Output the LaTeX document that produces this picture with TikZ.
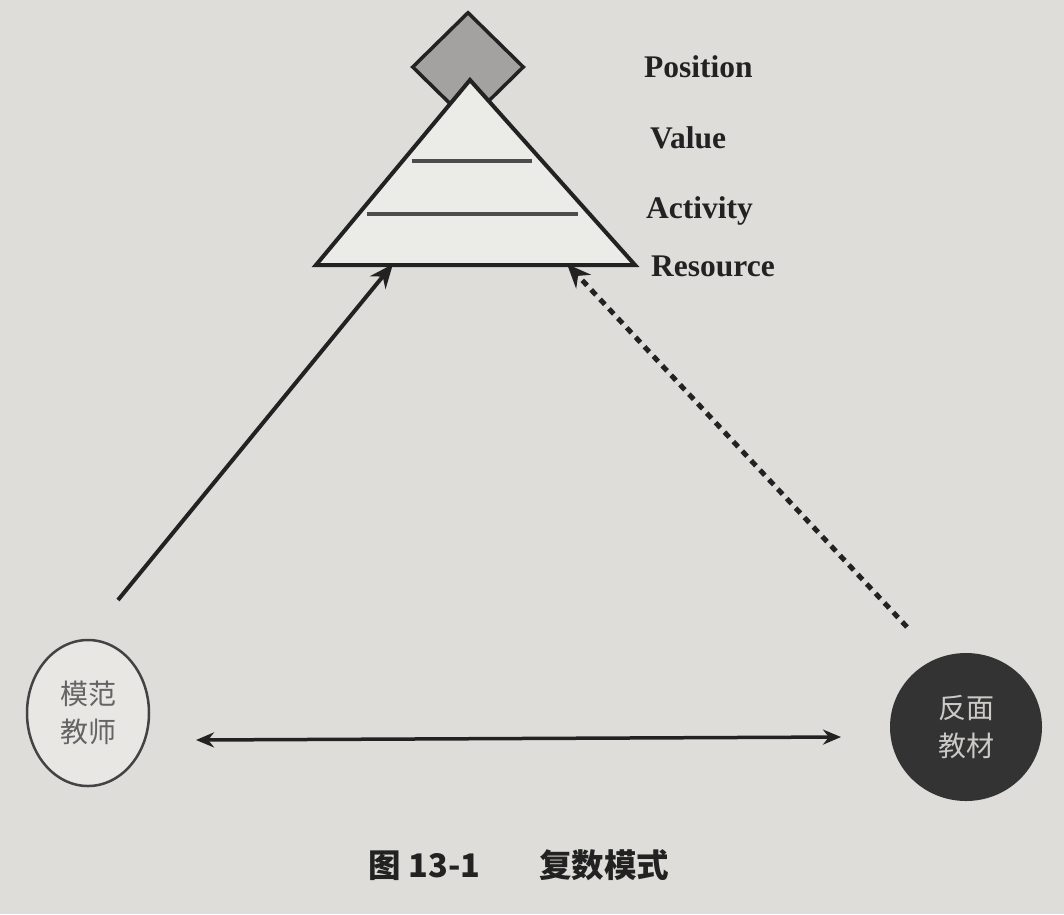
\documentclass[tikz,border=0pt]{standalone}
\usepackage{fontspec}
\setmainfont{Liberation Serif}
\newfontfamily\cjk{Noto Sans CJK SC}
\usetikzlibrary{arrows.meta,shapes.geometric}
\definecolor{paper}{HTML}{DEDDD9}
\definecolor{ink}{HTML}{222222}
\definecolor{diamondfill}{HTML}{A3A2A0}
\definecolor{darkcirc}{HTML}{333333}
\tikzset{
  lbl/.style={anchor=west,font=\fontsize{31.5}{34}\selectfont\bfseries,text=ink,inner sep=0pt},
  arr/.style={draw=ink,line width=4pt,-{Stealth[length=24pt,width=20pt]}},
  cjktxt/.style={font=\cjk\fontsize{28}{38}\selectfont,align=center}
}
\begin{document}
\begin{tikzpicture}[x=1pt,y=-1pt]
\fill[paper] (0,0) rectangle (1064,914);
\useasboundingbox (0,0) rectangle (1064,914);
% diamond
\node (dia) [diamond,draw=ink,line width=3.5pt,fill=diamondfill,minimum width=112pt,minimum height=110pt,inner sep=0pt] at (468,67) {};
% triangle
\coordinate (apex) at (470,80);
\coordinate (bl) at (316,265);
\coordinate (br) at (635,265);
\filldraw[draw=ink,fill=paper!60!white,line width=4pt,line join=miter] (apex) -- (bl) -- (br) -- cycle;
\coordinate (l1a) at (412,161); \coordinate (l1b) at (532,161);
\coordinate (l2a) at (367,214); \coordinate (l2b) at (578,214);
\draw[gray!60!black,line width=3.5pt] (l1a) -- (l1b);
\draw[gray!60!black,line width=3.5pt] (l2a) -- (l2b);
% labels
\node (pos) [lbl] at (644,67) {Position};
\node (val) [lbl] at (650,138) {Value};
\node (act) [lbl] at (646,211) {Activity};
\node (res) [lbl] at (651,266) {Resource};
% circles
\node (model) [ellipse,draw=ink!85,line width=2.5pt,fill=paper!70!white,minimum width=122pt,minimum height=146pt,inner sep=0pt,cjktxt,text=ink!70] at (88,713) {模范\\教师};
\node (anti) [ellipse,fill=darkcirc,minimum width=152pt,minimum height=148pt,inner sep=0pt,cjktxt,text=paper!80!gray] at (966,727) {反面\\教材};
% arrows
\coordinate (s1) at (118,600);
\coordinate (t1) at (393,264);
\coordinate (s2) at (907,627);
\coordinate (t2) at (567,264);
\draw[arr] (s1) -- (t1);
\draw[arr,line width=5pt,dash pattern=on 7pt off 6pt] (s2) -- (t2);
\coordinate (h1) at (196,740);
\coordinate (h2) at (841,737);
\draw[draw=ink,line width=3.5pt,{Stealth[length=18pt,width=15pt]}-{Stealth[length=18pt,width=15pt]}] (h1) -- (h2);
% caption
\node (cap) [font=\cjk\bfseries\fontsize{32.5}{36}\selectfont,text=ink] at (519,865) {图 13-1\hspace{1.8em}复数模式};
\end{tikzpicture}
\end{document}
